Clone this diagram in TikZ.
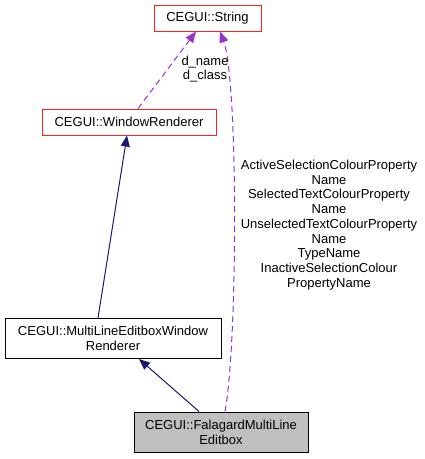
\documentclass[tikz,border=0pt]{standalone}
\usepackage{fontspec}
\setmainfont{Liberation Sans}
\usetikzlibrary{arrows.meta}
\definecolor{edgeblue}{HTML}{191970}
\definecolor{edgepurple}{HTML}{9A32CD}
\definecolor{boxred}{HTML}{FF2020}
\definecolor{boxgray}{HTML}{BFBFBF}
\begin{document}
\begin{tikzpicture}[x=1pt, y=-1pt,
    font=\fontsize{13}{14.75}\selectfont,
    classbox/.style={draw, line width=1pt, align=center, inner sep=0pt},
    edge/.style={->, line width=1pt},
    >={Triangle[length=11pt,width=9pt]}]
    \useasboundingbox (0,0) rectangle (425,459);
    \node[classbox, boxred, text=black, minimum width=107pt, minimum height=26pt] (str) at (207.5,18) {CEGUI::String};
    \node[classbox, boxred, text=black, minimum width=174pt, minimum height=26pt] (wr) at (129,122) {CEGUI::WindowRenderer};
    \node[classbox, minimum width=216pt, minimum height=40pt] (mler) at (113,338.5) {CEGUI::MultiLineEditboxWindow\\Renderer};
    \node[classbox, fill=boxgray, minimum width=174pt, minimum height=40pt] (fme) at (221,432) {CEGUI::FalagardMultiLine\\Editbox};
    \draw[edge, edgepurple, dash pattern=on 6pt off 4pt] ([xshift=9pt]wr.north) -- ([xshift=-11.5pt]str.south);
    \draw[edge, edgepurple, dash pattern=on 6pt off 4pt] ([xshift=4pt]fme.north) .. controls (238,340) and (238,80) .. ([xshift=12.5pt]str.south);
    \draw[edge, edgeblue] ([xshift=-15pt]mler.north) -- ([xshift=-2pt]wr.south);
    \draw[edge, edgeblue] ([xshift=-22pt]fme.north) -- ([xshift=26pt]mler.south);
    \node[align=center] (lbla) at (205,69) {d\_name\\d\_class};
    \node[align=center] (lblb) at (329,225) {ActiveSelectionColourProperty\\Name\\SelectedTextColourProperty\\Name\\UnselectedTextColourProperty\\Name\\TypeName\\InactiveSelectionColour\\PropertyName};
\end{tikzpicture}
\end{document}
